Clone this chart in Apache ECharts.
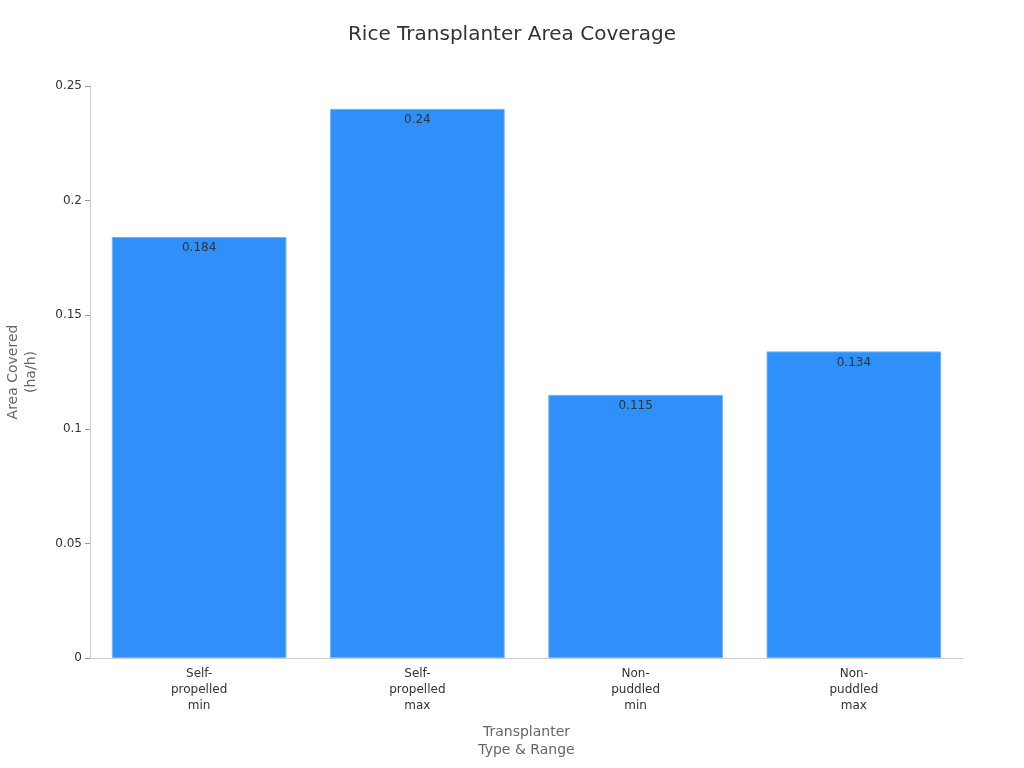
<!DOCTYPE html>
<html>
<head>
<meta charset="utf-8">
<script src="https://cdn.jsdelivr.net/npm/echarts@6/dist/echarts.min.js"></script>
<style>
  html, body { margin: 0; padding: 0; background: #fff; }
  #chart { width: 1024px; height: 768px; }
</style>
</head>
<body>
<div id="chart"></div>
<script>
// categories and values
const categories = ['Self-\npropelled\nmin', 'Self-\npropelled\nmax', 'Non-\npuddled\nmin', 'Non-\npuddled\nmax']
const areaCovered = [0.184, 0.24, 0.115, 0.134]

const chart = echarts.init(document.getElementById('chart'))
chart.setOption({
  textStyle: { fontFamily: 'DejaVu Sans' },
  title: {
    text: 'Rice Transplanter Area Coverage',
    left: 'center',
    top: 20,
    textStyle: { fontSize: 20, fontWeight: 'normal', color: '#333' }
  },
  grid: { left: 90, right: 61, top: 86, bottom: 110, containLabel: false, outerBoundsMode: 'none' },
  xAxis: {
    type: 'category',
    data: categories,
    name: 'Transplanter\nType & Range',
    nameLocation: 'middle',
    nameGap: 65,
    nameTextStyle: { fontSize: 14, color: '#666', lineHeight: 18 },
    axisLine: { lineStyle: { color: '#ccc' } },
    axisTick: { alignWithLabel: true, lineStyle: { color: '#999' } },
    axisLabel: { fontSize: 12, color: '#333', lineHeight: 16, interval: 0 }
  },
  yAxis: {
    type: 'value',
    min: 0,
    max: 0.25,
    interval: 0.05,
    name: 'Area Covered\n(ha/h)',
    nameLocation: 'middle',
    nameGap: 50,
    nameTextStyle: { fontSize: 14, color: '#666', lineHeight: 18 },
    axisLine: { show: true, lineStyle: { color: '#ccc' } },
    axisTick: { show: true, lineStyle: { color: '#999' } },
    axisLabel: { fontSize: 12, color: '#333' },
    splitLine: { show: false }
  },
  series: [
    {
      type: 'bar',
      data: areaCovered,
      barCategoryGap: '20%',
      itemStyle: { color: '#2e90f8', borderColor: '#6fb2fa', borderWidth: 1 },
      label: {
        show: true,
        position: 'insideTop',
        color: '#333',
        fontSize: 12
      }
    }
  ]
})
</script>
</body>
</html>
